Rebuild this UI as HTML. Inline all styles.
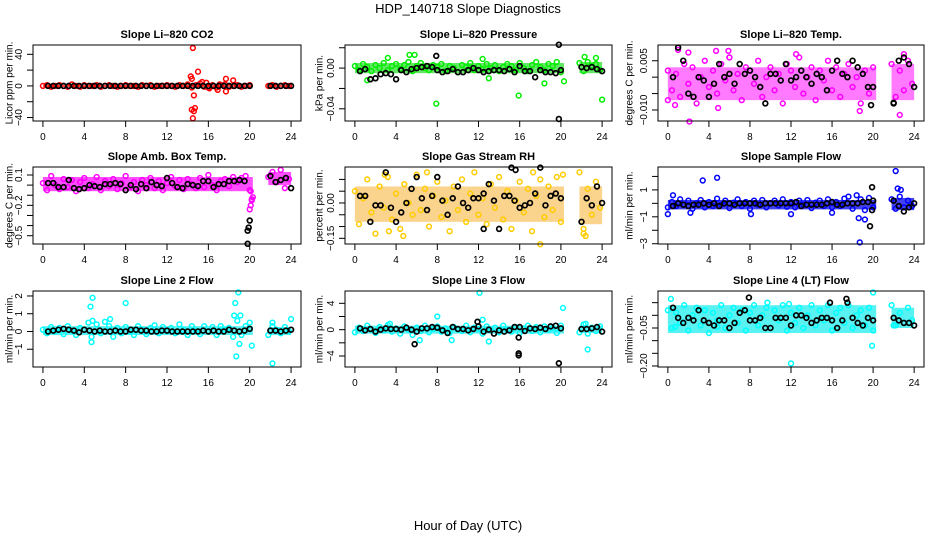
<!DOCTYPE html>
<html><head><meta charset="utf-8"><style>
body{margin:0;background:#fff}
svg{display:block;font-family:"Liberation Sans",sans-serif}
</style></head><body>
<svg id="chart" width="936" height="540" viewBox="0 0 936 540" xmlns="http://www.w3.org/2000/svg">
<text x="468" y="13" text-anchor="middle" font-size="13">HDP_140718  Slope Diagnostics</text>
<text x="468" y="530" text-anchor="middle" font-size="13">Hour of Day (UTC)</text>
</svg>
<script>
const xTicks=[0,4,8,12,16,20,24];
const colorHours=[0,0.4,0.8,1.2,1.6,2,2.4,2.8,3.2,3.6,4,4.4,4.8,5.2,5.6,6,6.4,6.8,7.2,7.6,8,8.4,8.8,9.2,9.6,10,10.4,10.8,11.2,11.6,12,12.4,12.8,13.2,13.6,14,14.4,14.8,15.2,15.6,16,16.4,16.8,17.2,17.6,18,18.4,18.8,19.2,19.6,20,21.8,22.2,22.6,23,23.4,23.8];
const blackHours=[0.5,1,1.5,2,2.5,3,3.5,4,4.5,5,5.5,6,6.5,7,7.5,8,8.5,9,9.5,10,10.5,11,11.5,12,12.5,13,13.5,14,14.5,15,15.5,16,16.5,17,17.5,18,18.5,19,19.5,20,22,22.5,23,23.5,24];
const bandStart=[0,21.8];
const bandEnd=[20.3,24];

const p1Vals=[0,1,-1,0,1,0,-1,2,0,-1,1,0,0,1,-1,0,1,0,-1,0,1,0,0,-1,1,0,1,-1,0,0,1,0,-1,1,0,2,-2,1,3,-1,-2,1,-2,1,2,-1,0,1,-1,0,1,0,1,-1,0,1,0];
const p1Blk=[0,0,0,0,0,0,0,0,0,0,0,0,0,0,0,0,0,0,0,0,0,0,0,0,0,0,0,0,0,0,0,0,0,0,0,0,0,0,0,0,0,0,0,0,0];
const p1OutH=[14.5,14.3,14.4,14.6,14.4,14.7,14.6,14.5,15.0,15.4,15.8,16.1,16.9,17.7,17.7,18.4,17.1];
const p1OutV=[48,12,9,-12,-30,-28,-32,-41,18,5,4,-3,-5,9,-7,7,2];
const p1BlkOutH=[];const p1BlkOutV=[];
const p1Band=[-1.5,1.5,-1.5,1.5];

const p2Vals=[0.002,-0.002,0.004,0.001,-0.003,0.003,0.000,0.005,-0.002,0.002,0.004,-0.001,0.003,0.006,-0.003,0.002,0.005,0.000,-0.002,0.003,0.001,0.004,-0.003,0.002,0.000,-0.004,0.003,0.001,0.005,-0.002,0.002,-0.001,0.004,0.000,0.003,-0.003,0.001,0.004,0.002,-0.002,0.005,0.000,-0.003,0.003,0.006,0.001,-0.002,0.004,0.002,0.006,-0.004,0.005,-0.003,0.006,0.002,0.004,-0.002];
const p2Blk=[-0.003,-0.001,-0.011,-0.010,-0.006,-0.005,-0.006,-0.011,-0.002,-0.004,-0.001,0.000,0.001,0.002,0.001,-0.002,-0.004,-0.003,-0.001,-0.004,-0.004,-0.002,0.000,-0.002,-0.004,-0.003,-0.002,-0.002,-0.003,-0.001,-0.004,0.002,-0.003,-0.003,-0.009,-0.002,-0.004,-0.004,-0.005,-0.002,0.001,0.000,0.001,-0.001,-0.003];
const p2OutH=[3.2,5.3,5.8,7.9,12.4,15.9,18.4,20.3,24.0,1.2,13.0,22.3,23.4];
const p2OutV=[0.010,0.013,0.013,-0.035,0.009,-0.027,-0.015,-0.013,-0.031,-0.012,-0.010,0.011,0.010];
const p2BlkOutH=[7.9,19.8,19.8];const p2BlkOutV=[0.012,0.023,-0.050];
const p2Band=[-0.005,0.005,-0.005,0.006];

const p3Vals=[0.002,-0.004,0.001,-0.006,0.004,-0.002,0.003,-0.008,0.000,0.005,-0.003,0.002,-0.005,0.004,-0.001,0.006,-0.004,0.001,-0.007,0.003,0.002,-0.002,0.005,-0.006,0.000,0.003,-0.004,0.001,-0.008,0.004,0.002,-0.003,0.006,-0.005,0.000,0.003,-0.007,0.002,-0.001,0.005,-0.004,0.003,-0.006,0.001,0.004,-0.003,0.000,-0.008,0.002,-0.005,0.003,0.004,-0.006,0.002,-0.004,0.005,-0.002];
const p3Blk=[0.000,0.009,0.005,-0.005,-0.006,0.000,-0.001,-0.006,-0.002,0.004,0.000,0.001,-0.002,0.004,0.001,0.002,0.000,-0.003,-0.008,0.001,0.001,-0.001,0.004,-0.001,0.000,0.002,0.000,-0.002,0.001,0.000,-0.004,0.002,0.005,0.001,0.000,0.005,0.003,0.001,-0.003,-0.003,-0.008,0.005,0.006,0.004,-0.003];
const p3OutH=[2.1,1.0,4.7,5.9,12.5,23.0,22.6,18.7,0.0,0.7,4.9,6.0,2.0];
const p3OutV=[-0.0135,0.0083,0.008,0.008,0.007,0.007,-0.0115,-0.0103,-0.007,-0.0085,-0.0094,0.006,0.0075];
const p3BlkOutH=[19.8,22.0];const p3BlkOutV=[-0.0085,-0.0078];
const p3Band=[-0.007,0.003,-0.007,0.004];

const p4Vals=[0.02,-0.05,0.09,0.0,-0.04,0.06,-0.02,0.05,-0.06,0.03,0.07,-0.03,0.01,0.08,-0.05,0.04,-0.01,0.06,-0.04,0.02,0.09,-0.02,0.03,-0.06,0.05,0.0,0.07,-0.03,0.04,-0.05,0.02,0.08,-0.01,0.05,-0.04,0.06,0.01,-0.03,0.07,-0.02,0.10,0.0,-0.05,0.04,0.06,-0.01,0.08,0.03,0.07,0.09,-0.05,0.08,0.13,0.03,0.15,-0.03,0.06];
const p4Blk=[0.02,0.02,-0.02,-0.02,0.05,-0.03,-0.04,-0.03,0.00,-0.01,-0.02,0.01,0.01,0.02,0.01,-0.05,0.0,-0.04,0.01,-0.03,0.03,0.0,-0.01,0.07,0.02,-0.02,-0.03,0.01,0.0,-0.01,0.04,0.04,-0.02,0.01,0.01,0.04,0.04,0.05,0.04,-0.35,0.09,0.03,0.05,0.07,-0.03];
const p4OutH=[20.1,20.2,20.3,20.1,20.0,20.2];
const p4OutV=[-0.06,-0.15,-0.12,-0.2,-0.24,-0.14];
const p4BlkOutH=[19.8,19.9,19.8];const p4BlkOutV=[-0.45,-0.42,-0.58];
const p4Band=[-0.06,0.08,0.0,0.13];

const p5Vals=[0.05,-0.09,0.02,0.10,-0.04,-0.13,0.07,-0.02,0.11,-0.07,0.04,-0.11,0.08,0.0,-0.05,0.12,-0.03,0.06,-0.10,0.03,0.09,-0.06,0.01,-0.12,0.07,-0.03,0.10,-0.08,0.04,0.13,-0.05,0.02,-0.09,0.08,-0.02,0.11,-0.07,0.05,-0.11,0.01,0.09,-0.04,0.06,-0.12,0.03,0.10,-0.06,0.07,-0.03,0.11,-0.08,0.13,-0.13,0.06,-0.05,0.09,-0.02];
const p5Blk=[0.03,0.03,-0.08,-0.01,-0.01,0.13,-0.02,-0.08,-0.04,0.00,0.06,0.11,0.02,-0.03,0.03,0.11,0.01,-0.05,0.02,0.07,0.00,-0.02,0.02,0.02,0.04,0.08,0.01,-0.11,0.03,0.03,0.01,-0.02,-0.01,0.00,0.04,0.15,-0.01,0.03,0.04,0.02,-0.08,0.02,-0.01,0.07,0.00];
const p5OutH=[4.7,7.0,17.3,18.0,3.3,22.2,22.4,2.9,20.2];
const p5OutV=[-0.14,0.13,0.13,-0.175,-0.12,-0.11,-0.14,0.12,0.12];
const p5BlkOutH=[15.2,15.6,12.5];const p5BlkOutV=[0.15,0.14,-0.11];
const p5Band=[-0.08,0.07,-0.09,0.07];

const p6Vals=[-0.3,0.1,-0.2,0.3,-0.1,0.2,-0.4,0.0,0.25,-0.3,0.1,-0.2,0.35,-0.1,0.2,-0.35,0.05,0.3,-0.2,0.1,-0.4,0.2,-0.1,0.25,-0.3,0.0,0.2,-0.15,0.3,-0.25,0.1,-0.3,0.2,-0.1,0.25,-0.35,0.05,0.2,-0.2,0.3,-0.3,0.1,-0.2,0.35,0.5,-0.4,0.6,0.3,-0.5,0.4,-0.3,0.3,-0.4,0.5,-0.3,0.2,-0.2];
const p6Blk=[-0.2,0.0,-0.1,-0.2,-0.1,-0.1,0.0,-0.1,0.0,-0.2,0.0,0.0,-0.1,0.0,0.0,0.0,0.0,-0.1,0.0,0.0,0.0,0.0,0.0,0.0,0.1,-0.2,-0.1,-0.1,-0.1,-0.1,0.0,0.1,-0.1,-0.1,0.0,0.0,0.0,0.1,0.1,0.2,0.2,-0.2,-0.6,-0.3,0.0];
const p6OutH=[3.4,4.8,22.2,22.4,22.7,18.7,18.6,19.2,0.0,8.1,12.0,0.5,16.0,2.2];
const p6OutV=[1.7,1.9,2.4,1.1,1.0,-2.9,-1.1,-1.2,-0.8,-0.8,-0.8,0.6,-0.7,-0.7];
const p6BlkOutH=[19.9,19.7,19.9];const p6BlkOutV=[1.2,-1.7,-0.5];
const p6Band=[-0.45,0.25,-0.5,0.4];

const p7Vals=[0.1,-0.1,0.25,0.0,0.2,-0.15,0.3,0.05,-0.2,0.2,0.1,0.5,0.6,0.4,-0.1,0.55,0.3,-0.3,0.2,-0.1,0.25,0.0,-0.2,0.3,0.1,-0.15,0.2,0.35,-0.1,0.25,0.0,0.2,-0.1,0.4,0.1,-0.2,0.3,0.05,-0.15,0.3,0.0,0.25,-0.2,0.3,0.1,0.2,-0.3,0.6,-0.2,0.3,0.5,-0.2,0.3,0.1,-0.1,0.25,0.0];
const p7Blk=[0.0,0.05,0.1,0.15,0.1,0.05,-0.05,0.1,0.05,0.0,0.05,0.0,0.0,0.05,0.0,0.0,0.1,0.1,0.05,0.05,0.0,0.0,0.05,0.05,0.0,0.0,0.0,0.0,0.0,0.0,0.05,0.0,0.05,0.0,0.0,0.1,0.05,0.0,0.05,0.15,0.05,0.05,0.0,0.05,0.1];
const p7OutH=[4.8,4.6,8.0,6.5,18.6,18.9,18.5,19.1,18.7,19.0,20.2,22.2,24.0,4.7,4.7,22.2];
const p7OutV=[1.9,1.4,1.6,0.7,1.6,2.2,0.9,0.9,-1.4,-0.7,-0.8,-1.8,0.7,-0.6,-0.3,0.5];
const p7BlkOutH=[];const p7BlkOutV=[];
const p7Band=[-0.2,0.3,-0.2,0.25];

const p8Vals=[-0.4,0.3,-0.2,0.6,0.0,-0.5,0.4,-0.1,0.7,-0.3,0.2,-0.6,0.5,0.0,-0.8,0.3,-0.2,0.6,-0.4,0.1,0.5,-0.3,0.2,-0.5,0.4,0.0,-0.2,0.6,-0.4,0.3,0.1,-0.6,0.5,-0.1,0.3,-0.4,0.6,0.0,-0.3,0.4,-0.5,0.2,0.6,-0.2,0.4,-0.4,0.5,0.0,0.3,-0.5,0.6,-0.4,0.8,-0.6,0.3,-0.2,0.5];
const p8Blk=[0.2,-0.1,0.1,-0.3,0.0,0.2,0.1,0.1,0.0,0.3,0.0,-0.3,0.2,0.2,0.4,0.3,-0.1,-0.5,0.4,0.1,0.1,-0.1,0.1,0.5,-0.3,0.0,-0.6,-0.1,-0.3,-0.1,0.4,0.4,-0.2,0.2,0.1,0.3,0.1,0.5,0.6,0.2,0.1,0.1,0.2,0.4,-0.3];
const p8OutH=[12.1,20.2,12.4,8.0,22.6,6.3,9.4,13.0,3.4,22.4];
const p8OutV=[5.6,3.3,1.5,2.0,-3.0,-1.6,-1.6,-1.8,0.9,0.9];
const p8BlkOutH=[5.8,15.9,15.9,15.9,19.8,11.9];const p8BlkOutV=[-2.2,-3.6,-3.9,-1.2,-5.1,1.2];
const p8Band=[-0.6,0.6,-0.5,0.6];

const p9Vals=[0.02,-0.05,0.01,-0.03,0.04,-0.06,0.0,0.03,-0.04,0.02,-0.07,0.01,-0.02,0.04,-0.05,0.0,0.03,-0.03,0.02,-0.06,0.01,0.04,-0.04,0.0,0.03,-0.05,0.02,-0.02,0.04,-0.06,0.01,-0.03,0.03,-0.05,0.0,0.04,-0.04,0.02,-0.02,0.04,-0.06,0.01,0.03,-0.03,0.04,-0.05,0.0,0.02,-0.04,0.03,-0.06,0.04,-0.04,0.01,-0.03,0.03,-0.02];
const p9Blk=[0.03,-0.01,-0.03,-0.01,-0.02,0.02,-0.02,-0.03,-0.04,-0.02,-0.02,-0.05,-0.03,0.01,0.02,-0.02,-0.02,-0.01,-0.05,-0.05,-0.01,-0.01,-0.01,-0.04,0.0,0.0,-0.01,-0.03,-0.02,-0.01,-0.01,-0.02,-0.05,-0.02,0.05,-0.01,-0.03,-0.04,-0.01,-0.02,-0.01,-0.02,-0.03,-0.03,-0.04];
const p9OutH=[0.3,20.0,12.0,19.9,22.0,0.7,4.8,11.8,9.7];
const p9OutV=[0.065,0.09,-0.19,-0.12,-0.04,-0.045,-0.045,0.045,0.05];
const p9BlkOutH=[7.9,17.4,15.8];const p9BlkOutV=[0.07,0.065,0.05];
const p9Band=[-0.07,0.04,-0.05,0.03];

const panels=[
 {name:'co2',title:'Slope Li\u2013820 CO2',ylab:'Licor ppm per min.',L:33,R:301,T:45,B:121,y0:-44.4,y1:51.8,ticks:[-40,-20,0,20,40],labels:{'-40':'\u221240','0':'0','40':'40'},col:'#ff0000',band:'#ff0000',op:0.7,vals:p1Vals,blk:p1Blk,oh:p1OutH,ov:p1OutV,bh:p1BlkOutH,bv:p1BlkOutV,bd:p1Band,yl:10},
 {name:'pressure',title:'Slope Li\u2013820 Pressure',ylab:'kPa per min.',L:345,R:612,T:45,B:121,y0:-0.052,y1:0.0227,ticks:[-0.04,-0.02,0,0.02],labels:{'-0.04':'\u22120.04','0':'0.00'},col:'#00ee00',band:'#22dd22',op:0.7,vals:p2Vals,blk:p2Blk,oh:p2OutH,ov:p2OutV,bh:p2BlkOutH,bv:p2BlkOutV,bd:p2Band,yl:320},
 {name:'licor-temp',title:'Slope Li\u2013820 Temp.',ylab:'degrees C per min.',L:658,R:924,T:45,B:121,y0:-0.01335,y1:0.00979,ticks:[-0.01,-0.005,0,0.005],labels:{'-0.01':'\u22120.010','0.005':'0.005'},col:'#ff00ff',band:'#ff33ff',op:0.65,vals:p3Vals,blk:p3Blk,oh:p3OutH,ov:p3OutV,bh:p3BlkOutH,bv:p3BlkOutV,bd:p3Band,yl:630},
 {name:'amb-box-temp',title:'Slope Amb. Box Temp.',ylab:'degrees C per min.',L:33,R:301,T:167,B:244,y0:-0.582,y1:0.179,ticks:[-0.5,-0.4,-0.3,-0.2,-0.1,0,0.1],labels:{'-0.5':'\u22120.5','-0.2':'\u22120.2','0.1':'0.1'},col:'#ff00ff',band:'#ff22ff',op:0.8,vals:p4Vals,blk:p4Blk,oh:p4OutH,ov:p4OutV,bh:p4BlkOutH,bv:p4BlkOutV,bd:p4Band,yl:10},
 {name:'gas-stream-rh',title:'Slope Gas Stream RH',ylab:'percent per min.',L:345,R:612,T:167,B:244,y0:-0.174,y1:0.1526,ticks:[-0.15,-0.1,-0.05,0,0.05,0.1],labels:{'-0.15':'\u22120.15','0':'0.00'},col:'#ffcc00',band:'#f5b030',op:0.55,vals:p5Vals,blk:p5Blk,oh:p5OutH,ov:p5OutV,bh:p5BlkOutH,bv:p5BlkOutV,bd:p5Band,yl:320},
 {name:'sample-flow',title:'Slope Sample Flow',ylab:'ml/min per min.',L:658,R:924,T:167,B:244,y0:-3.02,y1:2.7,ticks:[-3,-2,-1,0,1,2],labels:{'-3':'\u22123','-1':'\u22121','1':'1'},col:'#0000ff',band:'#1111ee',op:0.8,vals:p6Vals,blk:p6Blk,oh:p6OutH,ov:p6OutV,bh:p6BlkOutH,bv:p6BlkOutV,bd:p6Band,yl:630},
 {name:'line2-flow',title:'Slope Line 2 Flow',ylab:'ml/min per min.',L:33,R:301,T:291,B:367,y0:-2.0,y1:2.28,ticks:[-1,0,1,2],labels:{'-1':'\u22121','0':'0','1':'1','2':'2'},col:'#00ffff',band:'#22eeee',op:0.75,vals:p7Vals,blk:p7Blk,oh:p7OutH,ov:p7OutV,bh:p7BlkOutH,bv:p7BlkOutV,bd:p7Band,yl:10},
 {name:'line3-flow',title:'Slope Line 3 Flow',ylab:'ml/min per min.',L:345,R:612,T:291,B:367,y0:-5.67,y1:5.87,ticks:[-4,-2,0,2,4],labels:{'-4':'\u22124','0':'0','4':'4'},col:'#00ffff',band:'#22eeee',op:0.75,vals:p8Vals,blk:p8Blk,oh:p8OutH,ov:p8OutV,bh:p8BlkOutH,bv:p8BlkOutV,bd:p8Band,yl:320},
 {name:'line4-flow',title:'Slope Line 4 (LT) Flow',ylab:'ml/min per min.',L:658,R:924,T:291,B:367,y0:-0.204,y1:0.096,ticks:[-0.2,-0.15,-0.1,-0.05,0,0.05],labels:{'-0.2':'\u22120.20','-0.05':'\u22120.05'},col:'#00ffff',band:'#22eeee',op:0.75,vals:p9Vals,blk:p9Blk,oh:p9OutH,ov:p9OutV,bh:p9BlkOutH,bv:p9BlkOutV,bd:p9Band,yl:630}
];
const NS='http://www.w3.org/2000/svg';
const svg=document.getElementById('chart');
function mk(tag,attrs,parent){const e=document.createElementNS(NS,tag);for(const k in attrs)e.setAttribute(k,attrs[k]);(parent||svg).appendChild(e);return e;}
panels.forEach(p=>{
 const g=mk('g',{});
 
 
 const xs=h=>p.L+(h+0.96)/25.92*(p.R-p.L);
 const ys=v=>p.B-(v-p.y0)/(p.y1-p.y0)*(p.B-p.T);
 for(let s=0;s<2;s++){
  const r=mk('rect',{x:xs(bandStart[s]),y:ys(p.bd[s*2+1]),width:xs(bandEnd[s])-xs(bandStart[s]),height:ys(p.bd[s*2])-ys(p.bd[s*2+1]),fill:p.band,opacity:p.op},g);
  
  
 }
 const cg=mk('g',{fill:'none',stroke:p.col,'stroke-width':1.5},g);
 
 
 p.vals.forEach((v,i)=>{if(i<colorHours.length){const c=mk('circle',{cx:xs(colorHours[i]),cy:ys(v),r:2.4},cg);}});
 p.oh.forEach((h,i)=>{const c=mk('circle',{cx:xs(h),cy:ys(p.ov[i]),r:2.4},cg);});
 const bg=mk('g',{fill:'none',stroke:'#000','stroke-width':1.7},g);
 
 
 p.blk.forEach((v,i)=>{if(i<blackHours.length){const c=mk('circle',{cx:xs(blackHours[i]),cy:ys(v),r:2.4},bg);}});
 p.bh.forEach((h,i)=>{const c=mk('circle',{cx:xs(h),cy:ys(p.bv[i]),r:2.4},bg);});
 const box=mk('rect',{x:p.L,y:p.T,width:p.R-p.L,height:p.B-p.T,fill:'none',stroke:'#000','stroke-width':1},g);
 
 
 const t=mk('text',{x:(p.L+p.R)/2,y:p.T-7,'text-anchor':'middle','font-size':11,'font-weight':'bold'},g);
 t.textContent=p.title;
 
 
 xTicks.forEach(h=>{
  mk('line',{x1:xs(h),x2:xs(h),y1:p.B,y2:p.B+6,stroke:'#000'},g);
  const l=mk('text',{x:xs(h),y:p.B+19,'text-anchor':'middle','font-size':10},g);
  l.textContent=String(h);
  
  
 });
 p.ticks.forEach(v=>{
  mk('line',{x1:p.L,x2:p.L-6,y1:ys(v),y2:ys(v),stroke:'#000'},g);
  const key=String(v);
  if(p.labels[key]!==undefined){
   const yy=ys(v),xx=p.L-11;
   const l=mk('text',{x:xx,y:yy,'text-anchor':'middle','font-size':10,transform:`rotate(-90 ${xx} ${yy})`},g);
   l.textContent=p.labels[key];
   
   
  }
 });
 const yc=(p.T+p.B)/2;
 const yl=mk('text',{x:p.yl,y:yc,'text-anchor':'middle','font-size':10,'dominant-baseline':'middle',transform:`rotate(-90 ${p.yl} ${yc})`},g);
 yl.textContent=p.ylab;
 
 
});
</script>
</body></html>
